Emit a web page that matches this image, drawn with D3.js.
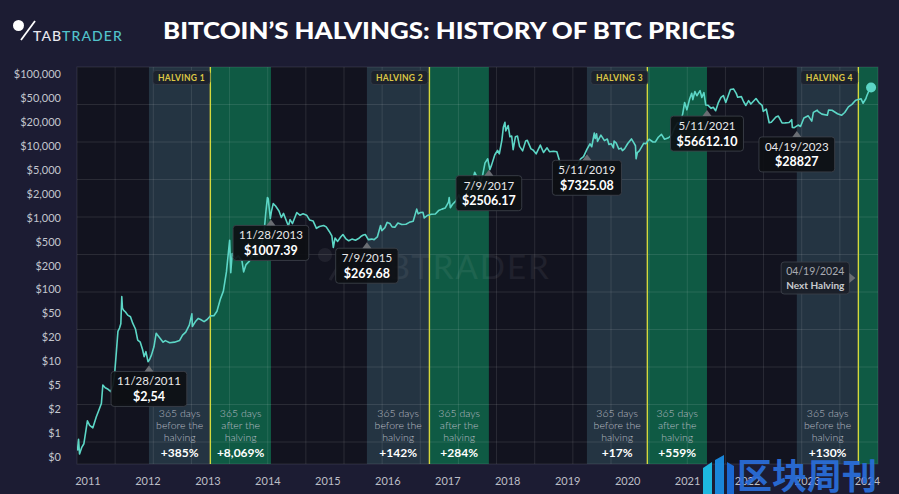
<!DOCTYPE html>
<html><head><meta charset="utf-8">
<script src="https://cdn.jsdelivr.net/npm/d3@7"></script>
<style>
html,body{margin:0;padding:0;background:#1c1c33;}
svg{display:block;}
</style></head>
<body>
<svg id="chart" width="899" height="494"></svg>
<script>
// ---------------- DATA ----------------
const yLabels = ["$100,000","$50,000","$20,000","$10,000","$5,000","$2,000","$1,000","$500","$200","$100","$50","$20","$10","$5","$2","$1","$0"];
const yearLabels = ["2011","2012","2013","2014","2015","2016","2017","2018","2019","2020","2021","2022","2023","2024"];

const priceDates = [
"2010-09-05","2010-09-12","2010-09-18","2010-10-01","2010-10-15","2010-11-06","2010-11-20","2010-12-10","2010-12-31",
"2011-01-15","2011-02-01","2011-02-10","2011-02-25","2011-03-15","2011-04-01","2011-04-15","2011-04-25","2011-05-05","2011-05-15","2011-05-25","2011-06-02","2011-06-08","2011-06-12","2011-06-20","2011-07-01","2011-07-15","2011-08-01","2011-08-15","2011-09-01","2011-09-15","2011-10-01","2011-10-15","2011-10-25","2011-11-05","2011-11-18","2011-11-28","2011-12-10","2011-12-25",
"2012-01-08","2012-01-15","2012-02-01","2012-02-20","2012-03-05","2012-04-01","2012-05-01","2012-06-01","2012-06-20","2012-07-10","2012-08-01","2012-08-17","2012-08-20","2012-09-10","2012-09-25","2012-10-10","2012-11-01","2012-11-20","2012-12-10",
"2013-01-01","2013-01-20","2013-02-10","2013-03-01","2013-03-20","2013-04-09","2013-04-16","2013-04-25","2013-05-15","2013-06-01","2013-06-25","2013-07-05","2013-07-20","2013-08-10","2013-09-01","2013-09-20","2013-10-05","2013-10-25","2013-11-10","2013-11-20","2013-11-30","2013-12-05","2013-12-18","2013-12-25",
"2014-01-05","2014-01-20","2014-02-10","2014-02-25","2014-03-10","2014-04-10","2014-04-20","2014-05-05","2014-06-01","2014-06-20","2014-07-10","2014-08-01","2014-08-20","2014-09-10","2014-10-01","2014-10-20","2014-11-15","2014-12-01","2014-12-20",
"2015-01-05","2015-01-14","2015-01-25","2015-02-10","2015-03-01","2015-03-15","2015-04-01","2015-04-20","2015-05-10","2015-06-01","2015-06-20","2015-07-09","2015-07-20","2015-08-01","2015-08-20","2015-09-10","2015-09-25","2015-10-15","2015-11-04","2015-11-12","2015-12-01","2015-12-15",
"2016-01-01","2016-01-15","2016-02-01","2016-02-20","2016-03-15","2016-04-10","2016-05-01","2016-05-25","2016-06-16","2016-06-25","2016-07-09","2016-07-25","2016-08-02","2016-08-20","2016-09-15","2016-10-10","2016-10-30","2016-11-20","2016-12-10","2016-12-31",
"2017-01-04","2017-01-11","2017-01-25","2017-02-15","2017-03-05","2017-03-25","2017-04-15","2017-05-05","2017-05-24","2017-06-01","2017-06-12","2017-06-25","2017-07-09","2017-07-16","2017-08-01","2017-08-15","2017-09-01","2017-09-14","2017-09-25","2017-10-15","2017-11-01","2017-11-12","2017-11-28","2017-12-07","2017-12-17","2017-12-22",
"2018-01-06","2018-01-17","2018-01-28","2018-02-06","2018-02-20","2018-03-05","2018-03-18","2018-04-06","2018-04-25","2018-05-05","2018-05-28","2018-06-10","2018-06-29","2018-07-25","2018-08-14","2018-09-05","2018-09-20","2018-10-15","2018-11-05","2018-11-20","2018-11-25","2018-12-05","2018-12-15","2018-12-24",
"2019-01-10","2019-02-07","2019-02-24","2019-03-15","2019-04-02","2019-04-20","2019-05-11","2019-05-30","2019-06-10","2019-06-26","2019-07-02","2019-07-10","2019-07-16","2019-08-06","2019-08-28","2019-09-15","2019-09-25","2019-10-10","2019-10-23","2019-10-27","2019-11-10","2019-11-25","2019-12-10","2019-12-18",
"2020-01-01","2020-01-20","2020-02-12","2020-02-28","2020-03-08","2020-03-12","2020-03-20","2020-04-01","2020-04-29","2020-05-11","2020-06-01","2020-06-25","2020-07-10","2020-07-28","2020-08-17","2020-09-05","2020-09-30","2020-10-20","2020-11-05","2020-11-25","2020-12-10","2020-12-27",
"2021-01-08","2021-01-22","2021-02-08","2021-02-21","2021-02-28","2021-03-13","2021-03-25","2021-04-14","2021-04-25","2021-05-08","2021-05-12","2021-05-19","2021-06-01","2021-06-22","2021-07-05","2021-07-20","2021-08-05","2021-08-22","2021-09-06","2021-09-21","2021-10-05","2021-10-20","2021-11-08","2021-11-25","2021-12-04","2021-12-27",
"2022-01-10","2022-01-24","2022-02-10","2022-02-24","2022-03-28","2022-04-15","2022-05-05","2022-05-12","2022-05-31","2022-06-18","2022-07-01","2022-07-30","2022-08-14","2022-09-06","2022-09-25","2022-10-20","2022-11-05","2022-11-09","2022-11-21","2022-12-15","2022-12-30",
"2023-01-20","2023-02-16","2023-03-10","2023-03-20","2023-04-13","2023-04-19","2023-05-12","2023-06-15","2023-06-23","2023-07-14","2023-08-17","2023-09-11","2023-10-01","2023-10-24","2023-11-15","2023-12-08",
"2024-01-11","2024-01-23","2024-02-10","2024-02-15","2024-02-28","2024-03-05","2024-03-13"
];
const priceValues = [
0.085,0.13,0.075,0.095,0.11,0.26,0.22,0.20,0.30,
0.38,0.50,1.00,0.90,0.85,0.78,1.00,1.60,3.4,7.5,8.5,10.0,27.6,18,16.5,15.5,13.8,13.0,10.2,8.2,5.4,5.0,3.8,2.9,3.5,2.4,2.6,3.1,4.2,
7.0,6.6,5.8,5.0,5.3,4.9,5.0,5.3,6.5,7.3,9.5,14.5,9.0,11.0,12.2,11.7,10.8,11.7,13.4,
13.5,16.0,25,34,70,230,68,140,115,128,105,70,92,105,135,124,128,200,330,650,1140,1100,520,680,
910,830,690,540,630,390,500,430,650,590,620,590,490,475,360,385,400,380,320,
270,175,250,220,260,285,245,225,240,230,245,270,280,285,235,240,235,260,400,330,370,450,
430,380,375,440,415,420,450,470,740,620,650,655,530,580,610,615,700,740,770,960,
1140,780,890,1010,1270,930,1180,1540,2400,2300,2950,2500,2506,1930,2720,4200,4900,3250,3900,5700,6700,5900,9900,16000,19300,13900,
17100,11200,11500,6900,11200,11500,7800,6600,9600,9800,7100,6800,5900,8200,6200,7400,6400,6500,6400,4700,3800,3900,3200,4000,
3650,3400,3900,3900,4900,5300,7000,8600,7700,12900,10500,12500,9400,11900,9700,10300,8400,8600,7400,9500,8800,7100,7300,6650,
7200,8700,10350,8800,8000,4900,6200,6600,8800,8600,10200,9200,9250,11000,12250,10200,10800,12000,15500,19000,18300,26500,
40600,30800,46200,57500,45200,61200,52300,63500,49000,58800,49500,37000,36700,32500,34000,29800,40000,49300,52700,40700,51500,66000,67600,57200,49400,50600,
41800,36300,43500,38300,47100,40500,36500,29000,31800,19000,19300,23600,24400,18800,18900,19100,21300,15900,15800,17400,16500,
22700,24600,20200,28000,30400,28800,26200,25100,30700,30300,26600,25100,27900,34500,37800,44200,
46600,39500,47100,51800,62500,66000,71400
];

const halvingNames = ["HALVING 1","HALVING 2","HALVING 3","HALVING 4"];
const bandStartDates = ["2011-11-24","2015-08-11","2019-05-11","2022-12-07"];
const halvingMarkDates = ["2012-12-10","2016-09-03","2020-05-21","2023-12-25"];
const bandEndDates = ["2013-12-22","2017-09-08","2021-05-27","2024-12-25"];
const beforePct = ["+385%","+142%","+17%","+130%"];
const afterPct = ["+8,069%","+284%","+559%",null];

const calloutDateText = ["11/28/2011","11/28/2013","7/9/2015","7/9/2017","5/11/2019","5/11/2021","04/19/2023"];
const calloutPriceText = ["$2,54","$1007.39","$269.68","$2506.17","$7325.08","$56612.10","$28827"];
const nextHalvingText = ["04/19/2024","Next Halving"];

// ---------------- SETUP ----------------
const parse = d3.timeParse("%Y-%m-%d");
const series = priceDates.map((d,i)=>({date:parse(d), value:priceValues[i]}));
const svg = d3.select("#chart");
const W = 899, H = 494;
const plot = {left:77, right:878, top:67, bottom:464};

const x = d3.scaleTime().domain([parse("2011-01-01"), parse("2024-01-01")]).range([96.4, 859.5]);
const y = d3.scaleLog().domain([1, 100000]).range([385, 78.5]);
const yLab = d3.scalePoint().domain(yLabels).range([74, 457]);
const xLab = d3.scalePoint().domain(yearLabels).range([87.5, 867]);
const gx = d3.scaleLinear().domain([0,21]).range([plot.left, plot.right]);
const gy = d3.scaleLinear().domain([0,10]).range([plot.top, 442]);

const FONT = "Lato, 'Open Sans', 'DejaVu Sans', sans-serif";

svg.append("rect").attr("width",W).attr("height",H).attr("fill","#1c1c33");

// header logo
const logo = svg.append("g");
logo.append("circle").attr("cx",18.5).attr("cy",25.5).attr("r",5.5).attr("fill","#ffffff");
logo.append("line").attr("x1",35).attr("y1",21).attr("x2",21).attr("y2",40).attr("stroke","#ffffff").attr("stroke-width",1.8);
const lt = logo.append("text").attr("x",33).attr("y",40.5).attr("font-family",FONT).attr("font-size",14).attr("letter-spacing",1.1).attr("font-weight",500);
lt.append("tspan").attr("fill","#e9e9ef").text("TAB");
lt.append("tspan").attr("fill","#52c3cb").text("TRADER");

// title
svg.append("text").attr("x",449).attr("y",39).attr("text-anchor","middle")
  .attr("font-family",FONT).attr("font-weight",900).attr("font-size",23).attr("fill","#ffffff")
  .attr("textLength",572).attr("lengthAdjust","spacingAndGlyphs")
  .text("BITCOIN\u2019S HALVINGS: HISTORY OF BTC PRICES");

// plot background
svg.append("rect").attr("x",plot.left).attr("y",plot.top).attr("width",plot.right-plot.left).attr("height",plot.bottom-plot.top).attr("fill","#12131f");

const clip = svg.append("defs").append("clipPath").attr("id","clip");
clip.append("rect").attr("x",plot.left).attr("y",plot.top).attr("width",plot.right-plot.left).attr("height",plot.bottom-plot.top);
const pg = svg.append("g").attr("clip-path","url(#clip)");

// bands
const bands = halvingNames.map((n,i)=>({name:n, s:parse(bandStartDates[i]), h:parse(halvingMarkDates[i]), e:parse(bandEndDates[i]), before:beforePct[i], after:afterPct[i]}));
pg.selectAll("rect.before").data(bands).join("rect").attr("class","before")
  .attr("x",d=>x(d.s)).attr("width",d=>x(d.h)-x(d.s)).attr("y",plot.top).attr("height",plot.bottom-plot.top).attr("fill","#243442");
pg.selectAll("rect.after").data(bands).join("rect").attr("class","after")
  .attr("x",d=>x(d.h)).attr("width",d=>x(d.e)-x(d.h)).attr("y",plot.top).attr("height",plot.bottom-plot.top).attr("fill","#0f5a44");

// grid
pg.selectAll("line.gv").data(d3.range(1,21)).join("line").attr("class","gv")
  .attr("x1",d=>gx(d)).attr("x2",d=>gx(d)).attr("y1",plot.top).attr("y2",plot.bottom)
  .attr("stroke","#ffffff").attr("stroke-opacity",0.1).attr("stroke-width",1);
pg.selectAll("line.gh").data(d3.range(1,11)).join("line").attr("class","gh")
  .attr("y1",d=>gy(d)).attr("y2",d=>gy(d)).attr("x1",plot.left).attr("x2",plot.right)
  .attr("stroke","#ffffff").attr("stroke-opacity",0.1).attr("stroke-width",1);

// watermark
const wm = pg.append("g").attr("opacity",0.06);
wm.append("circle").attr("cx",325).attr("cy",255).attr("r",7).attr("fill","#fff");
wm.append("line").attr("x1",348).attr("y1",250).attr("x2",330).attr("y2",280).attr("stroke","#fff").attr("stroke-width",3);
wm.append("text").attr("x",345).attr("y",279).attr("font-family",FONT).attr("font-size",33).attr("letter-spacing",2).attr("fill","#fff").text("TABTRADER");

// halving lines
pg.selectAll("line.hv").data(bands).join("line").attr("class","hv")
  .attr("x1",d=>x(d.h)).attr("x2",d=>x(d.h)).attr("y1",plot.top).attr("y2",plot.bottom)
  .attr("stroke","#d4d83c").attr("stroke-width",1.4);

// bottom texts
const txtLines = (g, cx, word, pct) => {
  ["365 days", word, "halving"].forEach((t,k)=>{
    g.append("text").attr("x",cx).attr("y",416.5+k*12).attr("text-anchor","middle")
      .attr("font-family",FONT).attr("font-weight",300).attr("font-size",10.5).attr("fill","#b9bcc4").text(t);
  });
  g.append("text").attr("x",cx).attr("y",456.5).attr("text-anchor","middle")
    .attr("font-family",FONT).attr("font-weight",700).attr("font-size",12).attr("fill","#ffffff").text(pct);
};
const bt = svg.append("g");
bands.forEach(b=>{
  txtLines(bt, (x(b.s)+x(b.h))/2, "before the", b.before);
  if (b.after) txtLines(bt, (x(b.h)+x(b.e))/2, "after the", b.after);
});

// price line
const line = d3.line().x(d=>x(d.date)).y(d=>y(d.value)).curve(d3.curveLinear);
pg.append("path").datum(series).attr("d",line).attr("fill","none").attr("stroke","#5cd6c6").attr("stroke-width",1.6).attr("stroke-linejoin","round");
const last = series[series.length-1];
pg.append("circle").attr("cx",x(last.date)).attr("cy",y(last.value)).attr("r",5).attr("fill","#5cd6c6");

// halving labels
bands.forEach(b=>{
  const g = svg.append("g");
  const t = g.append("text").attr("x",x(b.s)+9).attr("y",80.5).attr("font-family",FONT).attr("font-weight",700)
    .attr("font-size",8.5).attr("letter-spacing",0.3).attr("fill","#dcc845").text(b.name);
  const w = t.node().getComputedTextLength();
  g.insert("rect","text").attr("x",x(b.s)+4).attr("y",70.5).attr("width",w+10).attr("height",14).attr("rx",3)
    .attr("fill","#1c222d").attr("stroke","#343b47").attr("stroke-width",0.8);
});

// interpolate helper
const bis = d3.bisector(d=>d.date).left;
function valueAt(dt){
  const i = bis(series, dt);
  if (i<=0) return series[0].value;
  if (i>=series.length) return series[series.length-1].value;
  const a = series[i-1], b = series[i];
  const t = (dt-a.date)/(b.date-a.date);
  return Math.exp(Math.log(a.value)+(Math.log(b.value)-Math.log(a.value))*t);
}

// callouts
const anchorDates = [bands[0].s,bands[0].e,bands[1].s,bands[1].e,bands[2].s,bands[2].e,bands[3].s];
const cg = svg.append("g");
anchorDates.forEach((dt,i)=>{
  const cx = x(dt);
  const tip = y(valueAt(dt)) + 5;
  const g = cg.append("g");
  const top = tip + 6;
  const t1 = g.append("text").attr("x",cx).attr("y",top+14).attr("text-anchor","middle").attr("font-family",FONT)
    .attr("font-size",11.5).attr("fill","#e8e8ea").text(calloutDateText[i]);
  const t2 = g.append("text").attr("x",cx).attr("y",top+29.5).attr("text-anchor","middle").attr("font-family",FONT)
    .attr("font-weight",700).attr("font-size",12.5).attr("fill","#ffffff").text(calloutPriceText[i]);
  const w = Math.max(t1.node().getComputedTextLength(), t2.node().getComputedTextLength()) + 12;
  g.insert("rect","text").attr("x",cx-w/2).attr("y",top).attr("width",w).attr("height",35).attr("rx",3)
    .attr("fill","#0d0f14").attr("fill-opacity",0.92).attr("stroke","#3b4048").attr("stroke-width",0.9);
  g.append("path").attr("d",`M${cx-4.5},${top} L${cx},${tip} L${cx+4.5},${top} Z`).attr("fill","#6a6d73");
});

// next halving callout
{
  const hx = x(bands[3].h);
  const cy = 278;
  const right = hx - 9;
  const g = cg.append("g");
  const t1 = g.append("text").attr("y",cy-3).attr("font-family",FONT).attr("font-size",10.5).attr("fill","#a9abb2").text(nextHalvingText[0]);
  const t2 = g.append("text").attr("y",cy+11).attr("font-family",FONT).attr("font-weight",700).attr("font-size",10).attr("fill","#c9cbd0").text(nextHalvingText[1]);
  const w = Math.max(t1.node().getComputedTextLength(), t2.node().getComputedTextLength()) + 10;
  t1.attr("x",right-5).attr("text-anchor","end");
  t2.attr("x",right-5).attr("text-anchor","end");
  g.insert("rect","text").attr("x",right-w).attr("y",cy-16).attr("width",w).attr("height",32).attr("rx",3)
    .attr("fill","#1a1f28").attr("fill-opacity",0.95).attr("stroke","#3b4048").attr("stroke-width",0.9);
  g.append("path").attr("d",`M${right},${cy-5} L${right+6},${cy} L${right},${cy+5} Z`).attr("fill","#6a6d73");
}

// axes (label axes as drawn in the reference)
const yAxis = svg.append("g").attr("transform","translate(64,0)").call(d3.axisLeft(yLab).tickSize(0).tickPadding(3));
yAxis.select(".domain").remove();
yAxis.selectAll("text").attr("font-family",FONT).attr("font-size",11).attr("fill","#c3c6ce");
const xAxis = svg.append("g").attr("transform","translate(0,474)").call(d3.axisBottom(xLab).tickSize(0).tickPadding(3));
xAxis.select(".domain").remove();
xAxis.selectAll("text").attr("font-family",FONT).attr("font-size",11).attr("fill","#bcbfc7");

// plot border
svg.append("rect").attr("x",plot.left).attr("y",plot.top).attr("width",plot.right-plot.left).attr("height",plot.bottom-plot.top)
  .attr("fill","none").attr("stroke","#ffffff").attr("stroke-opacity",0.1);

// corner watermark
const cw = svg.append("g").attr("opacity",0.92);
cw.append("path").attr("d","M703,468 L712,462 L712,494 L703,494 Z").attr("fill","#1ec6ee");
cw.append("path").attr("d","M715,460 L724,455 L724,494 L715,494 Z").attr("fill","#1a8fe8");
cw.append("path").attr("d","M727,462 L734,466 L734,494 L727,494 Z").attr("fill","#1a6fe0");
cw.append("text").attr("x",737).attr("y",489).attr("font-family","'Noto Sans CJK SC', sans-serif").attr("font-weight",700)
  .attr("font-size",35).attr("fill","#2a6fdc").text("区块周刊");
</script>
</body></html>
